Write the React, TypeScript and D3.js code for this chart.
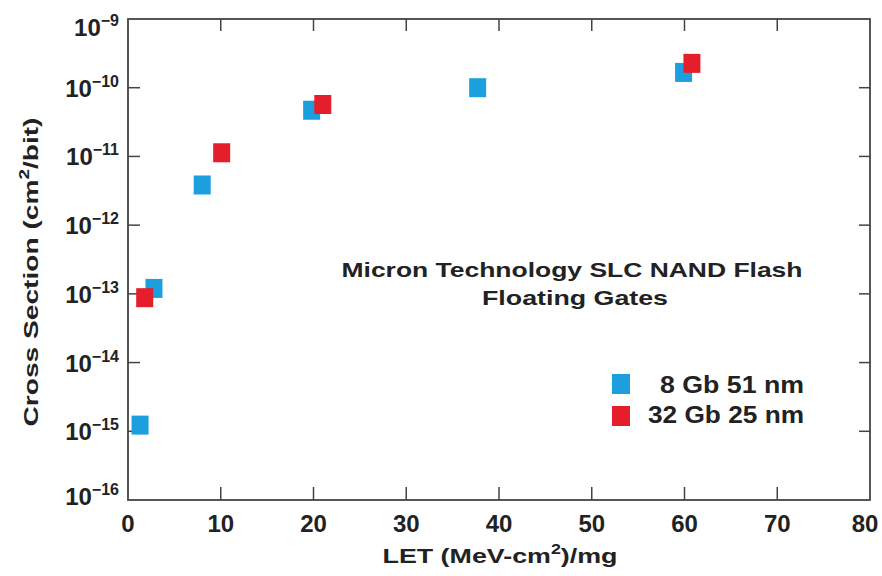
import React from "react";
import * as d3 from "d3";

const xTicks = [0, 10, 20, 30, 40, 50, 60, 70, 80];
const yExponents = [-9, -10, -11, -12, -13, -14, -15, -16];

const series8GbLET = [1.3, 2.8, 8, 19.8, 37.7, 59.9];
const series8GbXS = [1.23e-15, 1.2e-13, 3.84e-12, 4.7e-11, 1.0e-10, 1.67e-10];
const series32GbLET = [1.8, 10.1, 21, 60.8];
const series32GbXS = [8.8e-14, 1.13e-11, 5.7e-11, 2.26e-10];

const seriesNames = ["8 Gb 51 nm", "32 Gb 25 nm"];
const seriesColors = ["#1b9fdf", "#e41e2b"];
const legendWidths = [144, 156];

const W = 882;
const H = 576;
const left = 128;
const right = 870;
const top = 19;
const bottom = 500;

export default function App() {
  const x = d3.scaleLinear().domain([0, 80]).range([left, right]);
  const y = d3.scaleLog().domain([1e-16, 1e-9]).range([bottom, top]);
  const font = "'Liberation Sans', Arial, Helvetica, sans-serif";
  const mw = 17;
  const mh = 19;
  const s1 = series8GbLET.map((v, i) => ({ x: v, y: series8GbXS[i] }));
  const s2 = series32GbLET.map((v, i) => ({ x: v, y: series32GbXS[i] }));
  const frame = "#444";

  return (
    <svg width={W} height={H} style={{ position: "absolute", left: 0, top: 0, background: "#fff" }} fontFamily={font}>
      {/* ticks */}
      {xTicks.slice(1, -1).map((t) => (
        <g key={"xt" + t}>
          <line x1={x(t)} x2={x(t)} y1={bottom} y2={bottom - 13} stroke={frame} strokeWidth={1.5} />
          <line x1={x(t)} x2={x(t)} y1={top} y2={top + 12} stroke={frame} strokeWidth={1.5} />
        </g>
      ))}
      {yExponents.slice(1, -1).map((e) => (
        <g key={"yt" + e}>
          <line x1={left} x2={left + 12} y1={y(Math.pow(10, e))} y2={y(Math.pow(10, e))} stroke={frame} strokeWidth={1.5} />
          <line x1={right} x2={right - 11} y1={y(Math.pow(10, e))} y2={y(Math.pow(10, e))} stroke={frame} strokeWidth={1.5} />
        </g>
      ))}
      {/* frame */}
      <rect x={left} y={top} width={right - left} height={bottom - top} fill="none" stroke={frame} strokeWidth={1.8} />

      {/* x tick labels */}
      {xTicks.map((t) => (
        <text key={"xl" + t} x={Math.min(x(t), 865)} y={532} textAnchor="middle" fontSize={24} fontWeight="bold" fill="#222">
          {t}
        </text>
      ))}
      {/* y tick labels */}
      {yExponents.map((e) => {
        const cy = Math.min(Math.max(y(Math.pow(10, e)), 27), 496);
        return (
          <text key={"yl" + e} x={119} y={cy + 9} textAnchor="end" fontWeight="bold" fill="#222" fontSize={24}>
            10
            <tspan fontSize={16} dy={-10}>{"\u2212" + Math.abs(e)}</tspan>
          </text>
        );
      })}

      {/* axis titles */}
      <text x={500} y={563} textAnchor="middle" fontSize={21} fontWeight="bold" fill="#222" textLength={235} lengthAdjust="spacingAndGlyphs">
        LET (MeV-cm<tspan fontSize={14} dy={-9}>2</tspan><tspan dy={9}>)/mg</tspan>
      </text>
      <text
        transform={`translate(38,272) rotate(-90)`}
        textAnchor="middle"
        fontSize={21}
        fontWeight="bold"
        fill="#222"
        textLength={309}
        lengthAdjust="spacingAndGlyphs"
      >
        Cross Section (cm<tspan fontSize={14} dy={-9}>2</tspan><tspan dy={9}>/bit)</tspan>
      </text>

      {/* annotation */}
      <text x={572} y={277} textAnchor="middle" fontSize={21} fontWeight="bold" fill="#222" textLength={461} lengthAdjust="spacingAndGlyphs">
        Micron Technology SLC NAND Flash
      </text>
      <text x={575} y={305} textAnchor="middle" fontSize={21} fontWeight="bold" fill="#222" textLength={186} lengthAdjust="spacingAndGlyphs">
        Floating Gates
      </text>

      {/* markers */}
      {s1.map((d, i) => (
        <rect key={"a" + i} x={x(d.x) - mw / 2} y={y(d.y) - mh / 2} width={mw} height={mh} fill={seriesColors[0]} />
      ))}
      {s2.map((d, i) => (
        <rect key={"b" + i} x={x(d.x) - mw / 2} y={y(d.y) - mh / 2} width={mw} height={mh} fill={seriesColors[1]} />
      ))}

      {/* legend */}
      {seriesNames.map((n, i) => (
        <g key={"lg" + i}>
          <rect x={612} y={374 + i * 32} width={18} height={20} fill={seriesColors[i]} />
          <text
            x={804 - legendWidths[i]}
            y={393 + i * 30}
            textAnchor="start"
            fontSize={23}
            fontWeight="bold"
            fill="#222"
            textLength={legendWidths[i]}
            lengthAdjust="spacingAndGlyphs"
          >
            {n}
          </text>
        </g>
      ))}
    </svg>
  );
}
